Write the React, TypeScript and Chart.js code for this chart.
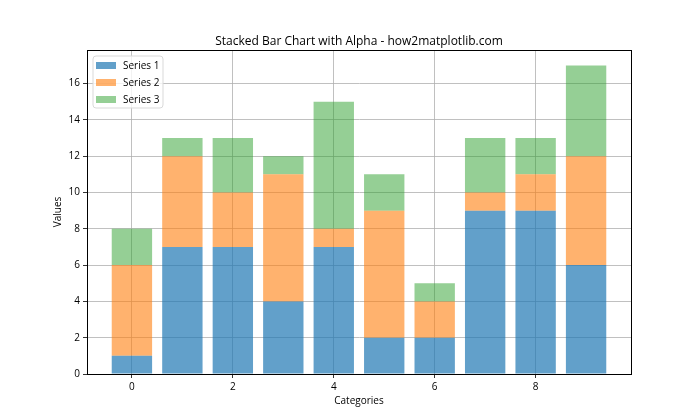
import React, { useEffect, useRef } from "react";
import { Chart, registerables } from "chart.js";

Chart.register(...registerables);

const categories = [0, 1, 2, 3, 4, 5, 6, 7, 8, 9];
const series1 = [1, 7, 7, 4, 7, 2, 2, 9, 9, 6];
const series2 = [5, 5, 3, 7, 1, 7, 2, 1, 2, 6];
const series3 = [2, 1, 3, 1, 7, 2, 1, 3, 2, 5];
const xTicks = [0, 2, 4, 6, 8];
const yTicks = [0, 2, 4, 6, 8, 10, 12, 14, 16];
const seriesNames = ["Series 1", "Series 2", "Series 3"];
const seriesColors = [
  "rgba(31,119,180,0.7)",
  "rgba(255,127,14,0.6)",
  "rgba(44,160,44,0.5)",
];
const titleText = "Stacked Bar Chart with Alpha - how2matplotlib.com";
const xLabel = "Categories";
const yLabel = "Values";

const FONT = "'Open Sans', 'DejaVu Sans', sans-serif";

const overlay = {
  id: "overlay",
  afterDraw(chart: any) {
    const { ctx, chartArea: a } = chart;
    ctx.save();
    ctx.strokeStyle = "#000";
    ctx.lineWidth = 1;
    ctx.strokeRect(Math.round(a.left) + 0.5, Math.round(a.top) + 0.5, Math.round(a.right - a.left), Math.round(a.bottom - a.top));
    ctx.fillStyle = "#000";
    ctx.textAlign = "center";
    ctx.textBaseline = "alphabetic";
    ctx.font = `12px ${FONT}`;
    ctx.fillText(titleText, (a.left + a.right) / 2, 45);
    ctx.font = `10px ${FONT}`;
    ctx.textBaseline = "middle";
    ctx.fillText(xLabel, (a.left + a.right) / 2, 401);
    ctx.save();
    ctx.translate(58, (a.top + a.bottom) / 2);
    ctx.rotate(-Math.PI / 2);
    ctx.fillText(yLabel, 0, 0);
    ctx.restore();
    const lx = a.left + 6, ly = a.top + 6, lw = 70, lh = 52;
    ctx.beginPath();
    const r = 3;
    ctx.moveTo(lx + r, ly);
    ctx.arcTo(lx + lw, ly, lx + lw, ly + lh, r);
    ctx.arcTo(lx + lw, ly + lh, lx, ly + lh, r);
    ctx.arcTo(lx, ly + lh, lx, ly, r);
    ctx.arcTo(lx, ly, lx + lw, ly, r);
    ctx.closePath();
    ctx.fillStyle = "rgba(255,255,255,0.8)";
    ctx.fill();
    ctx.strokeStyle = "#d9d9d9";
    ctx.stroke();
    ctx.textAlign = "left";
    ctx.font = `10px ${FONT}`;
    seriesNames.forEach((n, i) => {
      const cy = ly + 9 + i * 17;
      ctx.fillStyle = seriesColors[i];
      ctx.fillRect(lx + 3, cy - 3, 20, 7);
      ctx.fillStyle = "#000";
      ctx.fillText(n, lx + 30, cy + 1);
    });
    ctx.restore();
  },
};

export default function App() {
  const ref = useRef<HTMLCanvasElement>(null);
  useEffect(() => {
    if (!ref.current) return;
    const allSeries = [series1, series2, series3];
    const chart = new Chart(ref.current, {
      type: "bar",
      data: {
        datasets: allSeries.map((s, i) => ({
          label: seriesNames[i],
          data: categories.map((c, j) => ({ x: c, y: s[j] })),
          backgroundColor: seriesColors[i],
          borderWidth: 0,
          barPercentage: 1,
          categoryPercentage: 0.8,
        })),
      },
      options: {
        animation: false,
        responsive: false,
        maintainAspectRatio: false,
        layout: { padding: { left: 0, top: 50, right: 69, bottom: 0 } },
        plugins: { legend: { display: false }, title: { display: false }, tooltip: { enabled: false } },
        scales: {
          x: {
            type: "linear",
            stacked: true,
            min: -0.89,
            max: 9.89,
            offset: false,
            z: 1,
            afterFit: (s: any) => { s.height = 46; },
            afterBuildTicks: (s: any) => { s.ticks = xTicks.map((v) => ({ value: v })); },
            ticks: { autoSkip: false, color: "#000", font: { size: 10, family: FONT }, padding: 3, maxRotation: 0 },
            grid: { offset: false, color: "#b0b0b0", lineWidth: 0.8, tickColor: "#000", tickLength: 4, drawTicks: true },
            border: { display: true, color: "#000", width: 1 },
          },
          y: {
            type: "linear",
            stacked: true,
            min: 0,
            max: 17.85,
            z: 1,
            afterFit: (s: any) => { s.width = 87; },
            afterBuildTicks: (s: any) => { s.ticks = yTicks.map((v) => ({ value: v })); },
            ticks: { autoSkip: false, color: "#000", font: { size: 10, family: FONT }, padding: 3 },
            grid: { color: "#b0b0b0", lineWidth: 0.8, tickColor: "#000", tickLength: 4, drawTicks: true },
            border: { display: true, color: "#000", width: 1 },
          },
        },
      },
      plugins: [overlay],
    } as any);
    return () => chart.destroy();
  }, []);
  return (
    <div style={{ position: "fixed", left: 0, top: 0, width: 700, height: 420, background: "#fff" }}>
      <canvas ref={ref} width={700} height={420} style={{ width: 700, height: 420 }} />
    </div>
  );
}
